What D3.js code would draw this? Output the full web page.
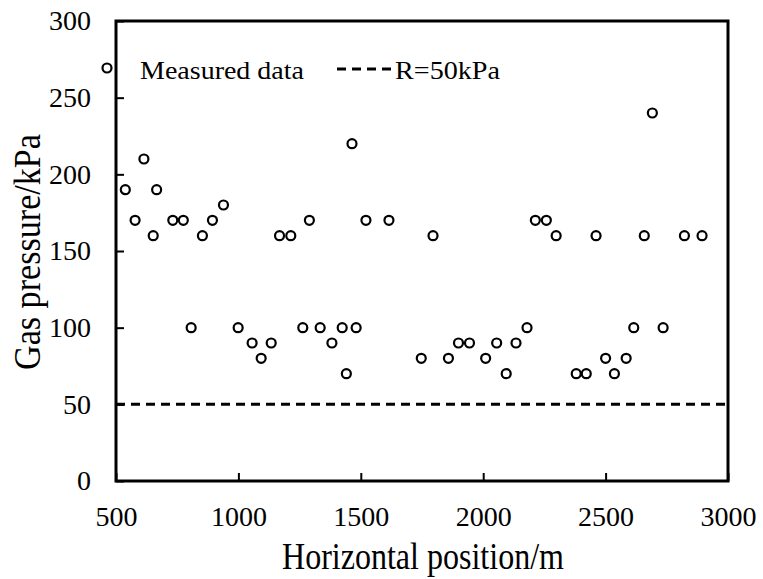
<!DOCTYPE html>
<html>
<head>
<meta charset="utf-8">
<script src="https://cdn.jsdelivr.net/npm/d3@7"></script>
<style>
  body { margin:0; background:#fff; }
  text { font-family: "Liberation Serif", "Times New Roman", serif; fill:#000; }
</style>
</head>
<body>
<div id="chart"></div>
<script>
// measured points: horizontal position (m) and gas pressure (kPa)
var positions = [538, 578, 614, 652, 666, 732, 775, 807, 853, 894, 939, 999,
                 1056, 1093, 1134, 1168, 1214, 1263, 1290, 1334, 1382, 1424, 1441, 1464,
                 1481, 1521, 1615, 1747, 1795, 1858, 1899, 1944, 2010, 2055, 2094, 2134,
                 2179, 2213, 2258, 2298, 2380, 2421, 2461, 2500, 2536, 2584, 2615, 2658,
                 2691, 2735, 2822, 2894];
var pressures = [190, 170, 210, 160, 190, 170, 170, 100, 160, 170, 180, 100,
                 90, 80, 90, 160, 160, 100, 170, 100, 90, 100, 70, 220,
                 100, 170, 170, 80, 160, 80, 90, 90, 80, 90, 70, 90,
                 100, 170, 170, 160, 70, 70, 160, 80, 70, 80, 100, 160,
                 240, 100, 160, 160];
var refPressure = 50;
var xTicks = [500, 1000, 1500, 2000, 2500, 3000];
var yTicks = [0, 50, 100, 150, 200, 250, 300];

var data = positions.map(function (p, i) { return { x: p, y: pressures[i] }; });

var margin = { left:116, right:35, top:21, bottom:98 };
var width = 763 - margin.left - margin.right;
var height = 579 - margin.top - margin.bottom;

var svg = d3.select("#chart").append("svg")
    .attr("width", 763)
    .attr("height", 579);

var g = svg.append("g")
    .attr("transform", "translate(" + margin.left + "," + margin.top + ")");

var xScale = d3.scaleLinear().domain([500, 3000]).range([0, width]);
var yScale = d3.scaleLinear().domain([0, 300]).range([height, 0]);

// x axis, ticks pointing inward
var xAxis = g.append("g")
    .attr("transform", "translate(0," + height + ")")
    .call(d3.axisBottom(xScale).tickValues(xTicks).tickFormat(d3.format("d"))
        .tickSizeInner(-8).tickSizeOuter(0).tickPadding(25));
xAxis.attr("font-family", null).attr("font-size", null);
xAxis.select(".domain").remove();
xAxis.selectAll("line").attr("stroke", "#000").attr("stroke-width", 2);
xAxis.selectAll("text").attr("font-size", 28).attr("fill", "#000")
    .style("font-family", "'Liberation Serif', serif");

var yAxis = g.append("g")
    .call(d3.axisLeft(yScale).tickValues(yTicks).tickFormat(d3.format("d"))
        .tickSizeInner(-8).tickSizeOuter(0).tickPadding(25));
yAxis.attr("font-family", null).attr("font-size", null);
yAxis.select(".domain").remove();
yAxis.selectAll("line").attr("stroke", "#000").attr("stroke-width", 2);
yAxis.selectAll("text").attr("font-size", 28).attr("fill", "#000")
    .style("font-family", "'Liberation Serif', serif");

// plot frame
g.append("rect")
    .attr("x", 0).attr("y", 0)
    .attr("width", width).attr("height", height)
    .attr("fill", "none")
    .attr("stroke", "#000")
    .attr("stroke-width", 3);

// reference line
g.append("line")
    .attr("x1", 0).attr("x2", width)
    .attr("y1", yScale(refPressure)).attr("y2", yScale(refPressure))
    .attr("stroke", "#000")
    .attr("stroke-width", 3)
    .attr("stroke-dasharray", "9,6");

// points
g.append("g").selectAll("circle")
    .data(data)
    .enter()
    .append("circle")
    .attr("cx", function (d) { return xScale(d.x); })
    .attr("cy", function (d) { return yScale(d.y); })
    .attr("r", 4.5)
    .attr("fill", "#fff")
    .attr("stroke", "#000")
    .attr("stroke-width", 2.2);

// axis titles
svg.append("text")
    .attr("x", 282)
    .attr("y", 569)
    .attr("font-size", 38)
    .attr("textLength", 282)
    .attr("lengthAdjust", "spacingAndGlyphs")
    .text("Horizontal position/m");

svg.append("text")
    .attr("transform", "translate(40,370) rotate(-90)")
    .attr("font-size", 38)
    .attr("textLength", 236)
    .attr("lengthAdjust", "spacingAndGlyphs")
    .text("Gas pressure/kPa");

// legend
var legend = svg.append("g").attr("class", "legend");
legend.append("circle")
    .attr("cx", 107).attr("cy", 68).attr("r", 4.5)
    .attr("fill", "#fff").attr("stroke", "#000").attr("stroke-width", 2.2);
legend.append("text")
    .attr("x", 140).attr("y", 79)
    .attr("font-size", 26)
    .attr("textLength", 164)
    .attr("lengthAdjust", "spacingAndGlyphs")
    .text("Measured data");
legend.append("line")
    .attr("x1", 337).attr("x2", 391)
    .attr("y1", 69).attr("y2", 69)
    .attr("stroke", "#000").attr("stroke-width", 3)
    .attr("stroke-dasharray", "9,6");
legend.append("text")
    .attr("x", 395).attr("y", 79)
    .attr("font-size", 26)
    .attr("textLength", 105)
    .attr("lengthAdjust", "spacingAndGlyphs")
    .text("R=50kPa");
</script>
</body>
</html>
